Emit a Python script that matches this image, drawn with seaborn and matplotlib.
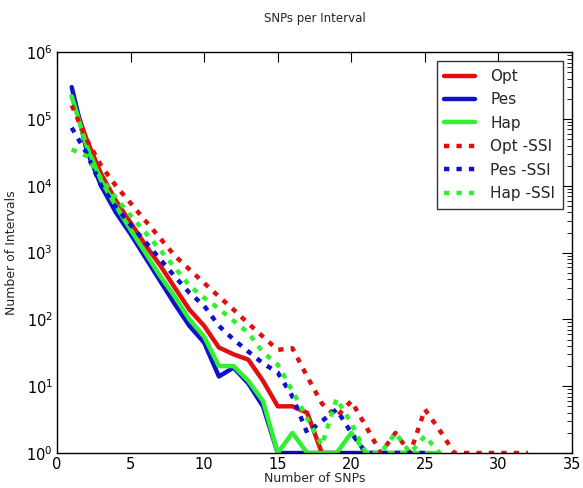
import numpy as np
import pandas as pd
import matplotlib
matplotlib.use('Agg')
import matplotlib.pyplot as plt
import seaborn as sns

# valores (numero de intervalos por numero de SNPs)
opt = [2.2e5, 5e4, 1.5e4, 6000, 2800, 1300, 650, 300, 140, 80, 38, 30, 25, 12,
       5, 5, 4, 1, 1]
pes = [3e5, 3.5e4, 1e4, 4000, 1900, 850, 380, 170, 80, 45, 14, 19, 11, 5,
       1, 1, 1, 1, 1, 1, 1, 1, 1, 1]
hap = [2.2e5, 4e4, 1.2e4, 5000, 2200, 1000, 450, 220, 100, 55, 20, 20, 12, 6,
       1, 2, 1, 1, 1, 2, 1, 1, 1, 1, 1, 1]
opt_ssi = [1.6e5, 5e4, 2e4, 1e4, 5500, 3000, 1650, 900, 560, 350, 220, 140, 87, 55,
           35, 37, 14, 5.5, 3.5, 6, 2.5, 1, 2, 1, 4.5, 2.2, 1, 1, 1, 1, 1, 1]
pes_ssi = [7.4e4, 3.1e4, 1e4, 4800, 2600, 1450, 800, 440, 250, 160, 80, 50, 33, 22,
           16, 7, 2, 3, 4.5, 2, 1, 1, 1, 1, 1]
hap_ssi = [3.5e4, 2.8e4, 1.3e4, 6600, 3600, 2000, 1100, 600, 320, 210, 145, 95, 63, 32,
           21, 8.5, 3.3, 1.3, 6.5, 2.8, 1, 1, 2, 1, 1.8, 1]

series = {'Opt': opt, 'Pes': pes, 'Hap': hap,
          'Opt -SSI': opt_ssi, 'Pes -SSI': pes_ssi, 'Hap -SSI': hap_ssi}

filas = []
for nombre, valores in series.items():
    for i, v in enumerate(valores):
        filas.append({'serie': nombre, 'snps': i + 1, 'intervalos': v})
df = pd.DataFrame(filas)

colores = {'Opt': '#e01010', 'Pes': '#1010d0', 'Hap': '#30f030',
           'Opt -SSI': '#e01010', 'Pes -SSI': '#1010d0', 'Hap -SSI': '#30f030'}
punteado = (1.2, 1.6)
estilos = {'Opt': '', 'Pes': '', 'Hap': '',
           'Opt -SSI': punteado, 'Pes -SSI': punteado, 'Hap -SSI': punteado}

sns.set_style('white')
plt.rcParams['font.family'] = ['DejaVu Sans']

fig = plt.figure(figsize=(5.83, 4.88), dpi=100)
ax = fig.add_axes([0.0978, 0.0717, 0.8834, 0.8213])

sns.lineplot(data=df, x='snps', y='intervalos', hue='serie', style='serie',
             palette=colores, dashes=estilos, linewidth=3.2,
             hue_order=list(series), style_order=list(series), ax=ax)

ax.set_yscale('log')
ax.set_xlim(0, 35)
ax.set_ylim(1, 1e6)
ax.set_xticks(range(0, 36, 5))

for lado in ax.spines.values():
    lado.set_color('black')
    lado.set_linewidth(1.0)
ax.tick_params(which='both', direction='in', top=True, right=True,
               colors='black', labelsize=10.5)
ax.tick_params(which='major', length=7, width=0.8, pad=3)
ax.tick_params(which='minor', length=3.5, width=0.6)

ax.set_title('SNPs per Interval', fontsize=8.5, pad=22)
ax.set_xlabel('Number of SNPs', fontsize=9, labelpad=0)
ax.set_ylabel('Number of Intervals', fontsize=9, labelpad=6)

leyenda = ax.get_legend()
manejadores = leyenda.legend_handles
etiquetas = [t.get_text() for t in leyenda.get_texts()]
ax.legend(manejadores, etiquetas, loc='upper right', fontsize=11,
          frameon=True, fancybox=False, edgecolor='black',
          borderaxespad=0.6, handlelength=2.0, labelspacing=0.55,
          borderpad=0.5, handletextpad=1.0)
ax.get_legend().get_frame().set_linewidth(1.0)

plt.savefig('out.png', dpi=100, facecolor='white')
